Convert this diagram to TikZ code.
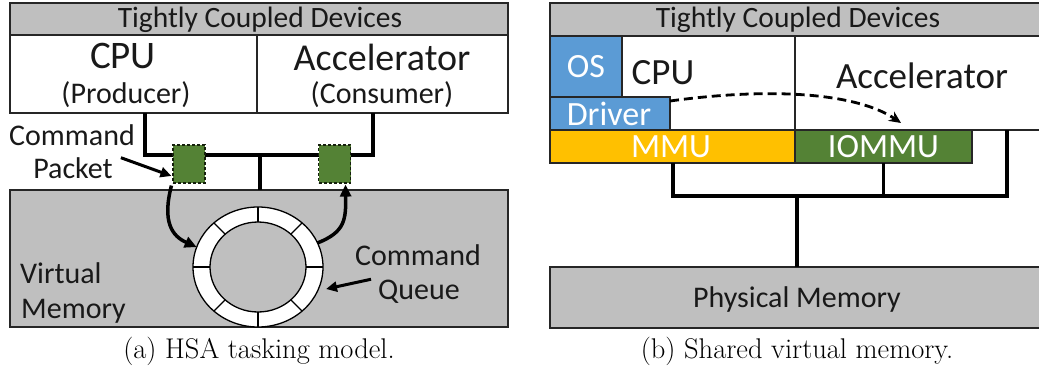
\documentclass[tikz,border=0pt]{standalone}
\usepackage{fontspec}
\usetikzlibrary{shapes.geometric,arrows.meta,calc}
\newfontfamily\calfont{Carlito}
\newcommand\fsz[1]{\fontsize{#1}{#1}\selectfont}
\definecolor{memgray}{HTML}{BFBFBF}
\definecolor{osblue}{HTML}{5B9BD5}
\definecolor{mmuorange}{HTML}{FFC000}
\definecolor{pktgreen}{HTML}{548235}
\begin{document}
\begin{tikzpicture}[x=1pt,y=-1pt,
  box/.style={draw=black!85, line width=1.3pt, inner sep=0, outer sep=0},
  lbl/.style={font=\calfont, inner sep=0, text=black!90},
  wlbl/.style={font=\calfont, inner sep=0, text=white},
  wire/.style={draw=black, line width=3.5pt},
  pkt/.style={draw=black!75!pktgreen, dash pattern=on 3pt off 2pt, fill=pktgreen, line width=1.1pt, minimum width=32pt, minimum height=38pt, inner sep=0},
  harrow/.style={draw=black, line width=3.5pt, -{Triangle[length=12pt,width=11pt]}},
  slot/.style={draw=black, line width=1.3pt},
  captxt/.style={inner sep=0, anchor=base, font=\fsz{28.5}},
]
\useasboundingbox (0,0) rectangle (1039,381);

% ===== Left panel =====
\node[box, fill=memgray, minimum width=498pt, minimum height=32pt] (hdrA) at (259,19) {};
\node[lbl] at (260,19.5) {\fsz{29.5}Tightly Coupled Devices};
\node[box, fill=white, minimum width=247pt, minimum height=78pt] (cpuA) at (133.5,74) {};
\node[box, fill=white, minimum width=251pt, minimum height=78pt] (accA) at (382.5,74) {};
\node[lbl] (cpuAt) at (123,56) {\fsz{39}CPU};
\node[lbl] (cpuAp) at (126,95) {\fsz{30}(Producer)};
\node[lbl] (accAt) at (382,57) {\fsz{38}Accelerator};
\node[lbl] (accAc) at (382,95) {\fsz{30}(Consumer)};
\node[box, fill=memgray, minimum width=498pt, minimum height=137pt] (memA) at (259,258.5) {};

\coordinate (j1) at (260,155);
\draw[wire] ($(cpuA.south west)+(135,0)$) |- (j1) -| ($(accA.south west)+(116,0)$);
\draw[wire] (j1) -- (j1 |- memA.north);

\node[pkt] (lp) at (189,164) {};
\node[pkt] (rp) at (334.5,164) {};

% command queue ring
\node[ellipse, draw=black, line width=1.3pt, fill=white, minimum width=130pt, minimum height=120pt, inner sep=0, outer sep=0] (ring) at (258,267) {};
\node[ellipse, draw=black, line width=1.3pt, fill=memgray, minimum width=96pt, minimum height=90pt, inner sep=0, outer sep=0] (inner) at (258,267) {};
\foreach \a in {0,45,...,315} {\draw[slot] (inner.\a) -- (ring.\a);}

\node[lbl, anchor=base west] (vm1) at (20,283) {\fsz{30}Virtual};
\node[lbl, anchor=base west] (vm2) at (21,318) {\fsz{30}Memory};
\node[lbl, anchor=base] (cp1) at (72,145) {\fsz{30}Command};
\node[lbl, anchor=base] (cp2) at (73,178) {\fsz{30}Packet};
\node[lbl, anchor=base] (cq1) at (418,265) {\fsz{30}Command};
\node[lbl, anchor=base] (cq2) at (419,299) {\fsz{30}Queue};

\draw[harrow] ($(lp.south west)+(-1,2)$) .. controls (162,222) and (172,236) .. (ring.162);
\draw[harrow] (ring.22) .. controls (345,232) and (346,220) .. ($(rp.south)+(11,1)$);
\draw[draw=black, line width=3pt, -{Triangle[length=11pt,width=10pt]}] (cp2.east) ++(8,-10) -- ($(lp.west)+(-1,12)$);
\draw[draw=black, line width=3pt, -{Triangle[length=11pt,width=10pt]}] (cq2.west) ++(-7,-12) -- ($(ring.east)+(3,22)$);

\node[captxt] (capA) at (259,358) {(a) HSA tasking model.};

% ===== Right panel =====
\node[box, fill=memgray, minimum width=493pt, minimum height=33pt] (hdrB) at (796.5,19.5) {};
\node[lbl] at (798,20) {\fsz{29.5}Tightly Coupled Devices};
\node[box, fill=white, minimum width=245pt, minimum height=94pt] (cpuB) at (672.5,83) {};
\node[box, fill=white, minimum width=248pt, minimum height=94pt] (accB) at (919,83) {};
\node[box, fill=osblue, minimum width=72pt, minimum height=61pt] (osB) at (586,66.5) {};
\node[wlbl] at (osB.center) {\fsz{34}OS};
\node[box, fill=osblue, minimum width=120pt, minimum height=33pt] (drvB) at (610,113.5) {};
\node[wlbl] at (609,114) {\fsz{34}Driver};
\node[lbl] (cpuBt) at (663,73) {\fsz{37}CPU};
\node[lbl] (accBt) at (922,76) {\fsz{37}Accelerator};
\node[box, fill=mmuorange, minimum width=245pt, minimum height=33pt] (mmuB) at (672.5,146.5) {};
\node[wlbl] at (671,147) {\fsz{34}MMU};
\node[box, fill=pktgreen, minimum width=177pt, minimum height=33pt] (iommuB) at (883.5,146.5) {};
\node[wlbl] at (iommuB.center) {\fsz{34}IOMMU};
\node[box, fill=memgray, minimum width=493pt, minimum height=61pt] (pmB) at (796.5,297.5) {};
\node[lbl] at (797,299) {\fsz{30}Physical Memory};

\coordinate (j2) at (797,196);
\draw[wire] ($(mmuB.south west)+(123,0)$) |- (j2) -| ($(accB.south west)+(212,0)$);
\draw[wire] (iommuB.south) -- (iommuB.south |- j2);
\draw[wire] (j2) -- (j2 |- pmB.north);

\draw[draw=black, line width=2.8pt, dash pattern=on 9pt off 5pt, -{Stealth[length=12pt,width=11pt]}] ($(drvB.north east)+(0,4)$) .. controls (780,86) and (860,95) .. (901,123);

\node[captxt] (capB) at (797,358) {(b) Shared virtual memory.};
\end{tikzpicture}
\end{document}
